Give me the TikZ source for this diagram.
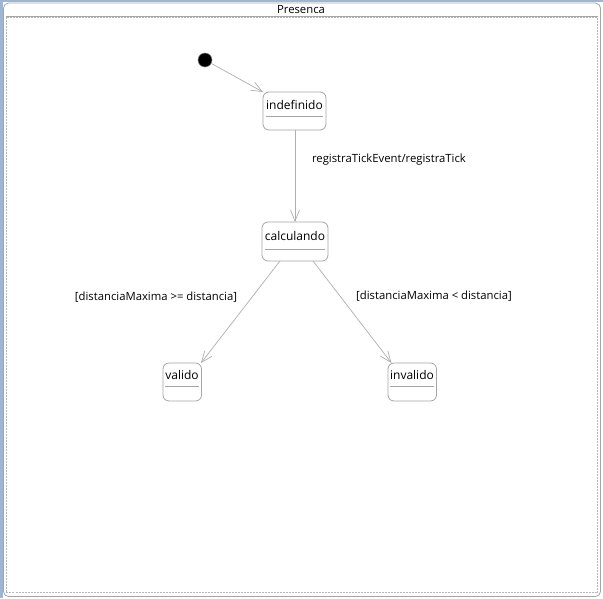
\documentclass[tikz,border=0pt]{standalone}
\usepackage{fontspec}
\setmainfont{Open Sans}
\usetikzlibrary{arrows.meta}
\definecolor{edgegray}{RGB}{175,175,175}
\definecolor{boxgray}{RGB}{165,165,165}
\definecolor{winblue}{RGB}{160,182,208}
\tikzset{
  statebox/.style={draw=boxgray, rounded corners=6pt, line width=0.8pt, fill=white},
  statename/.style={inner sep=0pt, font=\fontsize{12}{14}\selectfont, anchor=center},
  trans/.style={draw=edgegray, line width=0.7pt, -{Straight Barb[length=11pt,width=9pt,line width=0.7pt]}},
  lbl/.style={inner sep=0pt, font=\fontsize{11.3}{13}\selectfont, anchor=center},
}
\begin{document}
\begin{tikzpicture}[x=1pt,y=-1pt]
\useasboundingbox (0,0) rectangle (603,598);
\fill[white] (0,0) rectangle (603,598);
% window chrome
\fill[winblue] (0,0) rectangle (603,2);
\fill[winblue] (0,0) rectangle (2.5,598);
\draw[boxgray, line width=0.8pt, rounded corners=5pt] (3.5,3) rectangle (600.5,596.5);
\node[lbl] (title) at (301,10) {Presenca};
\draw[boxgray, line width=0.8pt] (6,16.5) -- (598,16.5);
\draw[boxgray!80, line width=0.5pt, dashed, dash pattern=on 2pt off 1pt] (6,17) rectangle (597.5,592.5);
% initial
\node[circle, fill=black, draw=gray, line width=0.5pt, minimum size=14pt, inner sep=0pt] (init) at (205,60) {};
% states
\draw[statebox] (263,92) rectangle (326,130);
\node[statename] (indef) at (294.5,104.5) {indefinido};
\draw[boxgray, line width=0.6pt] (266,116.5) -- (323,116.5);
\coordinate (indefTL) at (263,92);
\coordinate (indefB) at (295,130);

\draw[statebox] (262,222) rectangle (328,261);
\node[statename] (calc) at (295,236) {calculando};
\draw[boxgray, line width=0.6pt] (265,249.5) -- (325,249.5);
\coordinate (calcT) at (295,222);
\coordinate (calcBL) at (280,261);
\coordinate (calcBR) at (313,261);

\draw[statebox] (163,363) rectangle (201.5,401);
\node[statename] (valido) at (182,375) {valido};
\draw[boxgray, line width=0.6pt] (165,386.5) -- (199,386.5);
\coordinate (validoTR) at (201,363);

\draw[statebox] (388,363) rectangle (436.5,401);
\node[statename] (invalido) at (412,375) {invalido};
\draw[boxgray, line width=0.6pt] (390,386.5) -- (434,386.5);
\coordinate (invalidoTL) at (391.5,363);

% transitions
\draw[trans] (init) -- (indefTL);
\draw[trans] (indefB) -- (calcT);
\draw[trans] (calcBL) -- (validoTR);
\draw[trans] (calcBR) -- (invalidoTL);

% labels
\node[lbl] (l1) at (389,160) {registraTickEvent/registraTick};
\node[lbl] (l2) at (156,297.5) {[distanciaMaxima >= distancia]};
\node[lbl] (l3) at (434,296.5) {[distanciaMaxima < distancia]};
\end{tikzpicture}
\end{document}
